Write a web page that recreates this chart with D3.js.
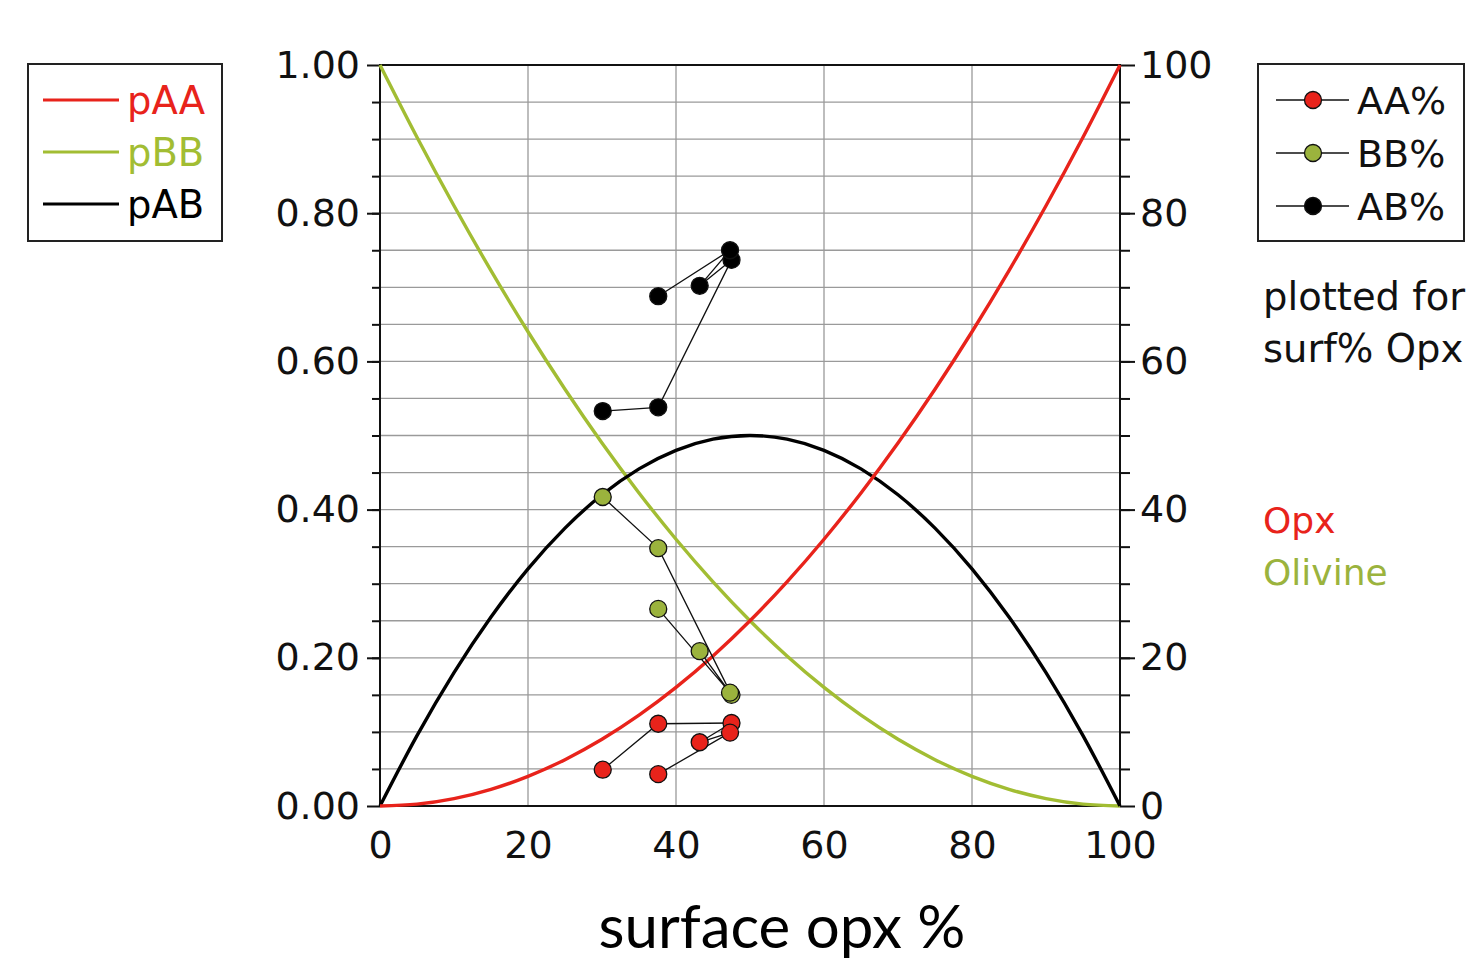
<!DOCTYPE html>
<html>
<head>
<meta charset="utf-8">
<script src="https://cdn.jsdelivr.net/npm/d3@7"></script>
<style>
  body { margin: 0; background: #fff; }
  text { font-family: "DejaVu Sans", sans-serif; }
</style>
</head>
<body>
<div id="chart"></div>
<script>
// curve samples (x = surface opx %)
const curveX = [0, 5, 10, 15, 20, 25, 30, 35, 40, 45, 50, 55, 60, 65, 70, 75, 80, 85, 90, 95, 100];
const pAA = [0, 0.0025, 0.01, 0.0225, 0.04, 0.0625, 0.09, 0.1225, 0.16, 0.2025, 0.25, 0.3025, 0.36, 0.4225, 0.49, 0.5625, 0.64, 0.7225, 0.81, 0.9025, 1.0];
const pBB = [1.0, 0.9025, 0.81, 0.7225, 0.64, 0.5625, 0.49, 0.4225, 0.36, 0.3025, 0.25, 0.2025, 0.16, 0.1225, 0.09, 0.0625, 0.04, 0.0225, 0.01, 0.0025, 0];
const pAB = [0, 0.095, 0.18, 0.255, 0.32, 0.375, 0.42, 0.455, 0.48, 0.495, 0.50, 0.495, 0.48, 0.455, 0.42, 0.375, 0.32, 0.255, 0.18, 0.095, 0];

// measured samples (right axis, %), in the order they are joined
const sampleX = [30.1, 37.6, 47.5, 43.2, 47.3, 37.6];
const aaPct = [4.9, 11.1, 11.2, 8.6, 9.9, 4.3];
const bbPct = [41.7, 34.8, 15.0, 20.9, 15.3, 26.6];
const abPct = [53.3, 53.8, 73.7, 70.2, 75.0, 68.8];

const xTicks = [0, 20, 40, 60, 80, 100];
const leftTicks = [0, 0.2, 0.4, 0.6, 0.8, 1.0];
const rightTicks = [0, 20, 40, 60, 80, 100];

const RED = '#e8231b', GREEN = '#a2bd33', GREEN_DOT = '#9bb33d';

const W = 1482, H = 961;
const margin = {top: 65, left: 380};
const width = 740, height = 741;

const svg = d3.select('#chart').append('svg')
  .attr('width', W).attr('height', H);

const x = d3.scaleLinear().domain([0, 100]).range([0, width]);
const y = d3.scaleLinear().domain([0, 1]).range([height, 0]);
const y2 = d3.scaleLinear().domain([0, 100]).range([height, 0]);

const chart = svg.append('g').attr('transform', `translate(${margin.left},${margin.top})`);

// grid
chart.append('g').selectAll('line')
  .data(d3.range(0.05, 1.0, 0.05))
  .join('line')
  .attr('x1', 0).attr('x2', width)
  .attr('y1', d => y(d)).attr('y2', d => y(d))
  .attr('stroke', '#9a9a9a').attr('stroke-width', 1.3);
chart.append('g').selectAll('line')
  .data([20, 40, 60, 80])
  .join('line')
  .attr('y1', 0).attr('y2', height)
  .attr('x1', d => x(d)).attr('x2', d => x(d))
  .attr('stroke', '#9a9a9a').attr('stroke-width', 1.3);

// frame
chart.append('rect').attr('width', width).attr('height', height)
  .attr('fill', 'none').attr('stroke', '#111').attr('stroke-width', 2);

// left axis
const leftAxis = d3.axisLeft(y).tickValues(leftTicks).tickFormat(d3.format('.2f')).tickSize(13).tickPadding(7);
const la = chart.append('g').call(leftAxis);
la.select('.domain').remove();
la.selectAll('text').style('font-size', '38px').attr('fill', '#111');
la.selectAll('line').attr('stroke', '#111').attr('stroke-width', 2);
chart.append('g').call(d3.axisLeft(y).tickValues(d3.range(0.05, 1.0, 0.05)).tickSize(8).tickFormat(''))
  .call(g => g.select('.domain').remove())
  .selectAll('line').attr('stroke', '#111').attr('stroke-width', 2);

// right axis
const ra = chart.append('g').attr('transform', `translate(${width},0)`)
  .call(d3.axisRight(y2).tickValues(rightTicks).tickSize(15).tickPadding(5));
ra.select('.domain').remove();
ra.selectAll('text').style('font-size', '38px').attr('fill', '#111');
ra.selectAll('line').attr('stroke', '#111').attr('stroke-width', 2);
chart.append('g').attr('transform', `translate(${width},0)`)
  .call(d3.axisRight(y2).tickValues(d3.range(5, 100, 5)).tickSize(10).tickFormat(''))
  .call(g => g.select('.domain').remove())
  .selectAll('line').attr('stroke', '#111').attr('stroke-width', 2);

// bottom axis
const ba = chart.append('g').attr('transform', `translate(0,${height})`)
  .call(d3.axisBottom(x).tickValues(xTicks).tickSize(0).tickPadding(25));
ba.select('.domain').remove();
ba.selectAll('text').style('font-size', '38px').attr('fill', '#111');

// theory curves
const line = d3.line().x((d, i) => x(curveX[i])).y(d => y(d)).curve(d3.curveMonotoneX);
[[pBB, GREEN], [pAB, '#000'], [pAA, RED]].forEach(([vals, col]) => {
  chart.append('path').attr('d', line(vals))
    .attr('fill', 'none').attr('stroke', col).attr('stroke-width', 3.4);
});

// samples
const series = [[aaPct, RED], [bbPct, GREEN_DOT], [abPct, '#000']];
series.forEach(([vals, col]) => {
  const pts = vals.map((v, i) => [x(sampleX[i]), y2(v)]);
  chart.append('path').attr('d', d3.line()(pts))
    .attr('fill', 'none').attr('stroke', '#111').attr('stroke-width', 1.3);
});
series.forEach(([vals, col]) => {
  chart.append('g').selectAll('circle')
    .data(vals)
    .join('circle')
    .attr('cx', (d, i) => x(sampleX[i]))
    .attr('cy', d => y2(d))
    .attr('r', 8.5)
    .attr('fill', col)
    .attr('stroke', '#111').attr('stroke-width', 1.3);
});

// x title
svg.append('text')
  .attr('x', 782).attr('y', 948)
  .attr('text-anchor', 'middle')
  .style('font-family', 'Lato, sans-serif')
  .style('font-size', '60px')
  .attr('fill', '#000')
  .text('surface opx %');

// left legend
const leg1 = svg.append('g');
leg1.append('rect').attr('x', 28).attr('y', 64).attr('width', 194).attr('height', 177)
  .attr('fill', '#fff').attr('stroke', '#222').attr('stroke-width', 2);
[['pAA', RED], ['pBB', GREEN], ['pAB', '#000']].forEach(([name, col], i) => {
  const cy = 100 + i * 52;
  leg1.append('line').attr('x1', 43).attr('x2', 119).attr('y1', cy).attr('y2', cy)
    .attr('stroke', col).attr('stroke-width', 3.2);
  leg1.append('text').attr('x', 127).attr('y', cy).attr('dy', '0.36em')
    .style('font-size', '38.5px').attr('fill', col).text(name);
});

// right legend
const leg2 = svg.append('g');
leg2.append('rect').attr('x', 1258).attr('y', 64).attr('width', 206).attr('height', 177)
  .attr('fill', '#fff').attr('stroke', '#222').attr('stroke-width', 2);
[['AA%', RED], ['BB%', GREEN_DOT], ['AB%', '#000']].forEach(([name, col], i) => {
  const cy = 100 + i * 53;
  leg2.append('line').attr('x1', 1276).attr('x2', 1349).attr('y1', cy).attr('y2', cy)
    .attr('stroke', '#111').attr('stroke-width', 1.3);
  leg2.append('circle').attr('cx', 1313).attr('cy', cy).attr('r', 8.5)
    .attr('fill', col).attr('stroke', '#111').attr('stroke-width', 1.3);
  leg2.append('text').attr('x', 1357).attr('y', cy).attr('dy', '0.36em')
    .style('font-size', '38px').attr('fill', '#111').text(name);
});

// notes
const notes = [['plotted for', '#111', 310, 38.5], ['surf% Opx', '#111', 362, 38.5], ['Opx', RED, 533, 36], ['Olivine', GREEN_DOT, 585, 36]];
notes.forEach(([t, col, yy, fs]) => {
  svg.append('text').attr('x', 1263).attr('y', yy)
    .style('font-size', fs + 'px').attr('fill', col).text(t);
});
</script>
</body>
</html>
